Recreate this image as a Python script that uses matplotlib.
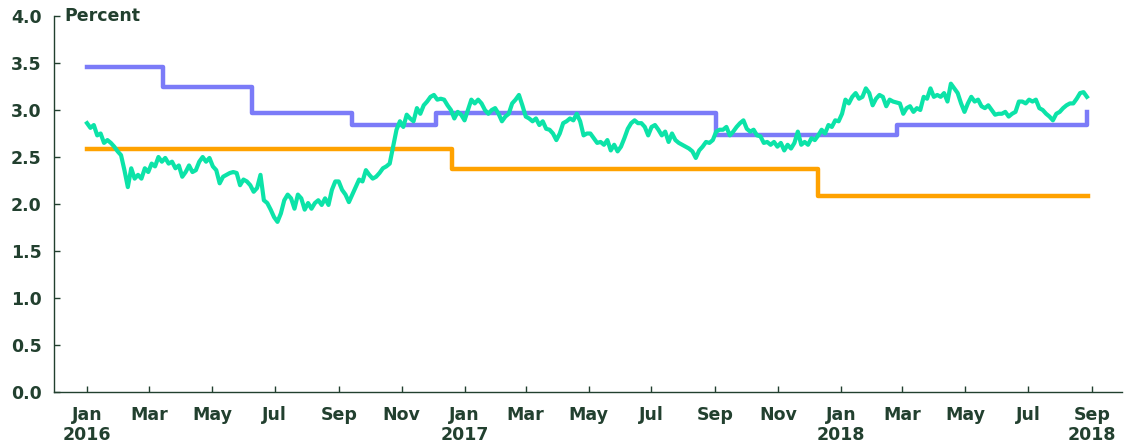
import pandas as pd
import numpy as np
import matplotlib
matplotlib.use('Agg')
import matplotlib.pyplot as plt
import matplotlib.dates as mdates

# step series (value holds from each date until the next one)
blue_dates = ['2016-01-01', '2016-03-15', '2016-06-09', '2016-09-14', '2016-12-04',
              '2017-09-02', '2018-02-24', '2018-08-27']
blue_vals = [3.46, 3.24, 2.97, 2.84, 2.97, 2.73, 2.84, 2.98]

orange_dates = ['2016-01-01', '2016-12-20', '2017-12-09', '2018-08-28']
orange_vals = [2.58, 2.37, 2.08, 2.08]

# noisy series, roughly evenly spaced from Jan 1 2016 to Aug 27 2018
green_vals = [
    2.86, 2.81, 2.84, 2.73, 2.75, 2.65, 2.68, 2.65, 2.61, 2.56, 2.52, 2.36, 2.18, 2.38, 2.27,
    2.31, 2.27, 2.38, 2.34, 2.43, 2.40, 2.50, 2.45, 2.49, 2.43, 2.45, 2.38, 2.41, 2.29, 2.34,
    2.41, 2.34, 2.36, 2.45, 2.50, 2.45, 2.49, 2.40, 2.36, 2.22, 2.29, 2.31, 2.33, 2.34, 2.33,
    2.20, 2.26, 2.24, 2.20, 2.13, 2.17, 2.31, 2.04, 2.01, 1.94, 1.86, 1.81, 1.90, 2.04,
    2.10, 2.06, 1.95, 2.10, 2.06, 1.94, 2.01, 1.95, 2.01, 2.04, 1.99, 2.06, 1.99, 2.15, 2.24,
    2.24, 2.15, 2.10, 2.02, 2.10, 2.18, 2.26, 2.24, 2.36, 2.31, 2.27, 2.29, 2.33, 2.38, 2.40,
    2.43, 2.61, 2.79, 2.88, 2.82, 2.95, 2.91, 2.88, 3.02, 2.96, 3.05, 3.09, 3.14, 3.16, 3.11,
    3.12, 3.11, 3.05, 3.00, 2.91, 2.98, 2.95, 2.89, 3.00, 3.11, 3.07, 3.11, 3.07, 3.00,
    2.96, 3.00, 3.02, 2.96, 2.88, 2.93, 2.96, 3.07, 3.11, 3.16, 3.05, 2.93, 2.91, 2.88, 2.91,
    2.84, 2.88, 2.80, 2.79, 2.75, 2.68, 2.75, 2.86, 2.88, 2.91, 2.89, 2.96, 2.88, 2.73, 2.75,
    2.75, 2.70, 2.65, 2.66, 2.63, 2.68, 2.57, 2.63, 2.56, 2.61, 2.70, 2.80, 2.86, 2.89, 2.86,
    2.86, 2.82, 2.73, 2.82, 2.84, 2.79, 2.73, 2.77, 2.66, 2.75, 2.68, 2.65, 2.63, 2.61, 2.59,
    2.56, 2.49, 2.57, 2.61, 2.66, 2.65, 2.68, 2.77, 2.79, 2.79, 2.82, 2.73, 2.77, 2.82, 2.86,
    2.89, 2.80, 2.77, 2.79, 2.73, 2.72, 2.65, 2.66, 2.63, 2.66, 2.61, 2.65, 2.57, 2.63, 2.59,
    2.65, 2.77, 2.63, 2.66, 2.63, 2.70, 2.68, 2.73, 2.79, 2.75, 2.84, 2.82, 2.89, 2.88, 2.96,
    3.11, 3.07, 3.14, 3.18, 3.12, 3.14, 3.23, 3.18, 3.05, 3.12, 3.16, 3.14, 3.04, 3.11, 3.09,
    3.08,
    3.07, 2.96, 3.02, 3.04, 2.98, 3.02, 3.00, 3.14, 3.12, 3.23, 3.14, 3.16, 3.14, 3.18, 3.09,
    3.28, 3.23, 3.18, 3.07, 2.98, 3.07, 3.14, 3.09, 3.11, 3.04, 3.02, 3.05, 3.00, 2.95, 2.96,
    2.96, 2.98, 2.93, 2.96, 2.98, 3.09, 3.09, 3.07, 3.11, 3.09, 3.11, 3.02, 3.00, 2.96, 2.93,
    2.89, 2.96, 2.98, 3.02, 3.05, 3.07, 3.07, 3.12, 3.18, 3.19, 3.14,
]
green_dates = pd.date_range('2016-01-01', '2018-08-27', periods=len(green_vals))

tick_dates = pd.date_range('2016-01-01', '2018-09-01', freq='2MS')
tick_labels = [d.strftime('%b') + ('\n' + d.strftime('%Y') if d.month == 1 or d == tick_dates[-1] else '')
               for d in tick_dates]

ink = '#22402f'
plt.rcParams['font.family'] = ['DejaVu Sans']
plt.rcParams['font.weight'] = 'bold'

fig = plt.figure(figsize=(11.3, 4.45), dpi=100)
ax = fig.add_axes([54 / 1130, 1 - 392 / 445, (1122 - 54) / 1130, (392 - 16) / 445])

ax.plot(pd.to_datetime(blue_dates), blue_vals, drawstyle='steps-post', color='#7b7bf8', lw=3.2)
ax.plot(pd.to_datetime(orange_dates), orange_vals, drawstyle='steps-post', color='#ffa200', lw=3.2)
ax.plot(green_dates, green_vals, color='#0ce3a8', lw=3.0, solid_joinstyle='round')

ax.set_ylim(0, 4)
ax.set_xlim(pd.Timestamp('2015-11-30'), pd.Timestamp('2018-09-30'))
ax.set_yticks(np.arange(0, 4.01, 0.5))
ax.set_yticklabels([f'{v:.1f}' for v in np.arange(0, 4.01, 0.5)])
ax.set_xticks(tick_dates)
ax.set_xticklabels(tick_labels, linespacing=1.15)

for s in ['top', 'right']:
    ax.spines[s].set_visible(False)
for s in ['left', 'bottom']:
    ax.spines[s].set_color(ink)
    ax.spines[s].set_linewidth(1.0)
ax.tick_params(axis='both', direction='in', length=4, width=1, color=ink,
               labelcolor=ink, labelsize=12.5)
ax.tick_params(axis='y', pad=9)
ax.tick_params(axis='x', pad=10)

ax.text(0.01, 4.0, 'Percent', transform=ax.get_yaxis_transform(), ha='left', va='center',
        fontsize=12.5, fontweight='bold', color=ink)

fig.savefig('out.png', dpi=100)
